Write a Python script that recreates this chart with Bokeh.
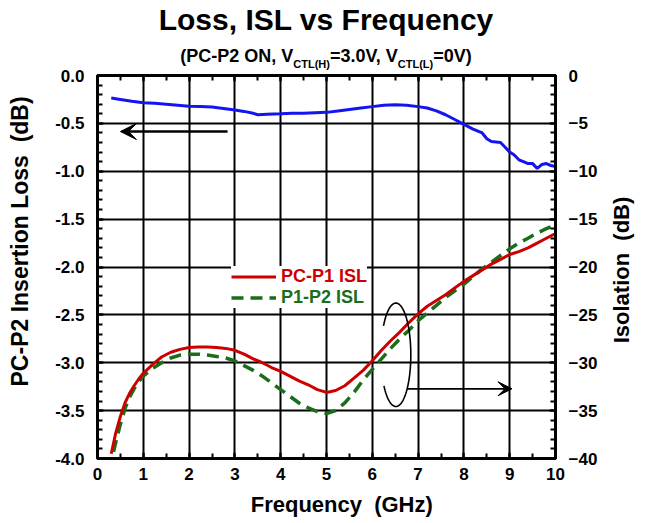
import numpy as np
from bokeh.plotting import figure
from bokeh.layouts import column, row
from bokeh.models import (Range1d, LinearAxis, SingleIntervalTicker, NumeralTickFormatter,
                          Legend, LegendItem, Arrow, VeeHead, CustomJSTickFormatter, Div)
from bokeh.embed import file_html
from bokeh.resources import INLINE

FONT = "Liberation Sans"

# ---------------- data ----------------
freq_il = [0.3, 0.5, 0.75, 1.0, 1.25, 1.5, 1.75, 2.0, 2.25, 2.5, 2.75, 3.0, 3.2, 3.4, 3.5,
           3.7, 4.0, 4.25, 4.5, 4.75, 5.0, 5.25, 5.5, 5.75, 6.0, 6.25, 6.5, 6.75, 7.0, 7.2,
           7.4, 7.6, 7.8, 8.0, 8.2, 8.4, 8.5, 8.6, 8.8, 8.9, 9.0, 9.1, 9.2, 9.3, 9.4, 9.5,
           9.6, 9.7, 9.8, 9.9, 10.0]
loss_il = [-0.235, -0.25, -0.27, -0.285, -0.29, -0.30, -0.31, -0.32, -0.325, -0.33, -0.345,
           -0.36, -0.375, -0.395, -0.41, -0.405, -0.40, -0.395, -0.395, -0.39, -0.385, -0.37,
           -0.355, -0.34, -0.325, -0.31, -0.305, -0.31, -0.325, -0.34, -0.37, -0.41, -0.46,
           -0.51, -0.56, -0.60, -0.66, -0.69, -0.70, -0.75, -0.80, -0.83, -0.88, -0.90, -0.92,
           -0.92, -0.97, -0.93, -0.92, -0.94, -0.95]

freq_isl1 = [0.3, 0.4, 0.5, 0.6, 0.7, 0.8, 0.9, 1.0, 1.2, 1.4, 1.6, 1.8, 2.0, 2.2, 2.4, 2.6,
             2.8, 3.0, 3.2, 3.4, 3.6, 3.8, 4.0, 4.2, 4.4, 4.6, 4.8, 5.0, 5.2, 5.4, 5.6, 5.8,
             6.0, 6.2, 6.4, 6.6, 6.8, 7.0, 7.2, 7.4, 7.6, 7.8, 8.0, 8.2, 8.4, 8.6, 8.8, 9.0,
             9.2, 9.4, 9.6, 9.8, 10.0]
isl_pc_p1 = [-39.5, -37.3, -35.6, -34.2, -33.2, -32.4, -31.7, -31.1, -30.2, -29.4, -28.9,
             -28.6, -28.4, -28.35, -28.35, -28.4, -28.5, -28.7, -29.1, -29.6, -30.0, -30.5,
             -30.9, -31.4, -31.9, -32.3, -32.8, -33.1, -32.9, -32.4, -31.6, -30.8, -29.8,
             -28.7, -27.7, -26.8, -25.8, -24.9, -24.1, -23.5, -22.9, -22.2, -21.5, -20.9,
             -20.3, -19.7, -19.2, -18.7, -18.4, -18.0, -17.5, -17.0, -16.5]

freq_isl2 = [0.35, 0.4, 0.5, 0.6, 0.7, 0.8, 0.9, 1.0, 1.2, 1.4, 1.6, 1.8, 2.0, 2.2, 2.4, 2.6,
             2.8, 3.0, 3.2, 3.4, 3.6, 3.8, 4.0, 4.2, 4.4, 4.6, 4.8, 5.0, 5.2, 5.4, 5.6, 5.8,
             6.0, 6.2, 6.4, 6.6, 6.8, 7.0, 7.2, 7.4, 7.6, 7.8, 8.0, 8.2, 8.4, 8.6, 8.8, 9.0,
             9.2, 9.4, 9.6, 9.8, 10.0]
isl_p1_p2 = [-39.3, -38.3, -36.4, -34.8, -33.6, -32.7, -32.0, -31.4, -30.6, -30.0, -29.5,
             -29.2, -29.1, -29.1, -29.2, -29.35, -29.5, -29.8, -30.3, -30.8, -31.4, -32.1,
             -32.8, -33.5, -34.2, -34.7, -35.1, -35.3, -35.0, -34.2, -33.1, -31.8, -30.7,
             -29.6, -28.5, -27.5, -26.6, -25.6, -24.8, -24.0, -23.2, -22.5, -21.8, -21.0,
             -20.2, -19.5, -18.8, -18.1, -17.5, -17.0, -16.45, -16.0, -15.6]

series_labels = ["PC-P1 ISL", "P1-P2 ISL"]
title_text = "Loss, ISL vs Frequency"
x_label = "Frequency\u00a0\u00a0(GHz)"
y_label = "PC-P2 Insertion Loss\u00a0\u00a0(dB)"
y2_label = "Isolation&nbsp;&nbsp;(dB)"

# ---------------- styles ----------------
BLUE = "#1414f0"
RED = "#cc0000"
GREEN = "#1a6e1a"
NB = "\u00a0"
CSS_FONT = "font-family:'Liberation Sans',Arial,sans-serif;font-weight:bold;color:#000;"
FIG_H = 457

head = Div(
    text=(
        '<div style="position:relative;width:647px;height:72px;' + CSS_FONT + '">'
        '<div style="position:absolute;left:0;top:5px;width:652px;text-align:center;'
        'font-size:30px;line-height:30px;white-space:nowrap;">' + title_text + '</div>'
        '<div style="position:absolute;left:0;top:47px;width:652px;text-align:center;'
        'font-size:18px;line-height:18px;white-space:nowrap;">(PC-P2 ON, V'
        '<span style="font-size:11px;position:relative;top:6px;">CTL(H)</span>=3.0V, V'
        '<span style="font-size:11px;position:relative;top:6px;">CTL(L)</span>=0V)</div>'
        '</div>'
    ),
    width=647, height=64, margin=0,
    styles={"overflow": "visible", "z-index": "2"},
)

side = Div(
    text=(
        '<div style="position:relative;width:47px;height:' + str(FIG_H) + 'px;' + CSS_FONT + '">'
        '<div style="position:absolute;left:22px;top:206px;font-size:22px;line-height:22px;'
        'white-space:nowrap;transform:translate(-50%,-50%) rotate(-90deg);">'
        + y2_label + '</div></div>'
    ),
    width=47, height=FIG_H, margin=0,
    styles={"overflow": "visible"},
)

p = figure(width=600, height=FIG_H, x_range=Range1d(0, 10), y_range=Range1d(-4, 0),
           output_backend="svg", toolbar_location=None, margin=0,
           min_border_left=97, min_border_right=43, min_border_top=11, min_border_bottom=63)
p.extra_y_ranges = {"iso": Range1d(-40, 0)}
p.outline_line_color = "black"
p.outline_line_width = 3
p.background_fill_color = "white"
p.border_fill_color = "white"
p.border_fill_alpha = 0.0


def style_axis(ax, standoff):
    ax.axis_line_width = 3
    ax.axis_line_color = "black"
    ax.major_tick_in = 6
    ax.major_tick_out = 0
    ax.major_tick_line_width = 2
    ax.minor_tick_in = 5
    ax.minor_tick_out = 0
    ax.minor_tick_line_width = 2
    ax.major_label_text_font = FONT
    ax.major_label_text_font_style = "bold"
    ax.major_label_text_font_size = "17px"
    ax.major_label_text_color = "black"
    ax.major_label_standoff = standoff
    ax.axis_label_text_font = FONT
    ax.axis_label_text_font_style = "bold"
    ax.axis_label_text_color = "black"


xticker = SingleIntervalTicker(interval=1, num_minor_ticks=2)
yticker = SingleIntervalTicker(interval=0.5, num_minor_ticks=5)

xa = p.xaxis[0]
xa.ticker = xticker
style_axis(xa, 9)
xa.axis_label = NB * 5 + x_label
xa.axis_label_text_font_size = "22px"
xa.axis_label_standoff = 9

ya = p.yaxis[0]
ya.ticker = yticker
ya.formatter = NumeralTickFormatter(format="0.0")
style_axis(ya, 13)
ya.axis_label = NB * 8 + y_label
ya.axis_label_text_font_size = "23px"
ya.axis_label_standoff = 19

ra = LinearAxis(y_range_name="iso", ticker=SingleIntervalTicker(interval=5, num_minor_ticks=5))
style_axis(ra, 13)
p.add_layout(ra, "right")

ta = LinearAxis(ticker=SingleIntervalTicker(interval=1, num_minor_ticks=2),
                formatter=CustomJSTickFormatter(code="return ''"))
style_axis(ta, 0)
ta.major_label_text_font_size = "1px"
p.add_layout(ta, "above")

p.xgrid.ticker = xticker
p.ygrid.ticker = yticker
for g in (p.xgrid[0], p.ygrid[0]):
    g.grid_line_color = "black"
    g.grid_line_width = 2
    g.grid_line_alpha = 1.0

# ---------------- series ----------------
p.line(freq_il, loss_il, line_color=BLUE, line_width=3)
r_green = p.line(freq_isl2, isl_p1_p2, y_range_name="iso", line_color=GREEN,
                 line_width=3.5, line_dash="12 7")
r_red = p.line(freq_isl1, isl_pc_p1, y_range_name="iso", line_color=RED, line_width=3)


def make_legend(label, rend, color, loc):
    return Legend(items=[LegendItem(label=label, renderers=[rend])], location=loc,
                  label_text_font=FONT, label_text_font_style="bold",
                  label_text_font_size="18px", label_text_color=color,
                  glyph_width=45, glyph_height=21, label_height=21, label_standoff=5,
                  padding=4, margin=0, spacing=0, border_line_color=None,
                  background_fill_color="white", background_fill_alpha=1.0)


p.add_layout(make_legend(series_labels[1], r_green, GREEN, (134, 150.5)), "center")
p.add_layout(make_legend(series_labels[0], r_red, RED, (134, 171.5)), "center")

# ---------------- annotations ----------------
ell_cx, ell_cy, ell_rx, ell_ry = 6.515, -29.17, 0.326, 5.40
th = np.radians(np.linspace(-143, 146, 120))
p.line(ell_cx + ell_rx * np.cos(th), ell_cy + ell_ry * np.sin(th), y_range_name="iso",
       line_color="black", line_width=1.6)

p.add_layout(Arrow(end=VeeHead(size=16, fill_color="black", line_color="black"),
                   x_start=2.84, y_start=-0.585, x_end=0.5, y_end=-0.585,
                   line_width=2.6, line_color="black"))
p.add_layout(Arrow(end=VeeHead(size=14, fill_color="black", line_color="black"),
                   x_start=6.76, y_start=-32.72, x_end=9.05, y_end=-32.72,
                   y_range_name="iso", line_width=1.7, line_color="black"))

layout = column(head, row(p, side, spacing=0, margin=0), spacing=0, margin=0)
open("out.html", "w").write(file_html(layout, INLINE))
